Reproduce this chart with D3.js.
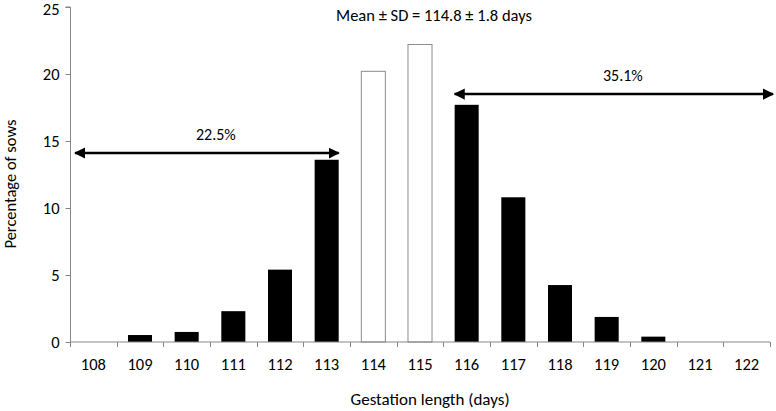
<!DOCTYPE html>
<html><head><meta charset="utf-8">
<script src="https://cdn.jsdelivr.net/npm/d3@7"></script>
<style>body{margin:0;background:#fff}svg{display:block}text{font-family:Carlito,Lato,"Open Sans",sans-serif;fill:#000}</style>
</head><body><svg id="c" width="776" height="411"></svg>
<script>
const categories = ["108","109","110","111","112","113","114","115","116","117","118","119","120","121","122"];
const values = [0, 0.52, 0.75, 2.3, 5.4, 13.6, 20.2, 22.2, 17.7, 10.8, 4.25, 1.87, 0.4, 0, 0];
const hollow = ["114","115"];
const yTicks = [0,5,10,15,20,25];
const title = "Mean \u00b1 SD = 114.8 \u00b1 1.8 days";
const spans = [
  {label:"22.5%", from:"108", to:"113", level:14.1},
  {label:"35.1%", from:"116", to:"122", level:18.5}
];

const svg = d3.select("#c");
const m = {l:70, r:6, t:7, b:69};
const x = d3.scaleBand().domain(categories).range([m.l, 770]).paddingInner(0.485).paddingOuter(0.2425);
const y = d3.scaleLinear().domain([0,25]).range([342, 7]);

// bars
svg.append("g").selectAll("rect").data(categories).join("rect")
  .attr("x", d => x(d)).attr("width", x.bandwidth())
  .attr("y", (d,i) => y(values[i])).attr("height", (d,i) => y(0) - y(values[i]))
  .attr("fill", d => hollow.includes(d) ? "#fff" : "#000")
  .attr("stroke", d => hollow.includes(d) ? "#8c8c8c" : "none")
  .attr("stroke-width", 1);

// x axis with ticks between categories
const xb = d3.scaleLinear().domain([0, categories.length]).range([m.l, 770]);
const gx = svg.append("g").attr("transform","translate(0,342)");
gx.append("line").attr("x1", m.l).attr("x2", 770).attr("stroke","#868686").attr("stroke-width",1);
gx.selectAll("line.t").data(d3.range(categories.length+1)).join("line").attr("class","t")
  .attr("x1", d => Math.round(xb(d))+0.5).attr("x2", d => Math.round(xb(d))+0.5)
  .attr("y1", 0).attr("y2", 5).attr("stroke","#868686");
gx.selectAll("text").data(categories).join("text")
  .attr("x", d => x(d) + x.bandwidth()/2).attr("y", 28)
  .attr("text-anchor","middle").attr("font-size", 16.5).text(d => d);

// y axis
const gy = svg.append("g").attr("transform","translate(70.5,0)")
  .call(d3.axisLeft(y).tickValues(yTicks).tickSize(5).tickPadding(6).tickFormat(d3.format("d")));
gy.select(".domain").attr("stroke","#868686").attr("d", `M-5,${y(25)}H0V${y(0)}`);
gy.selectAll(".tick line").attr("stroke","#868686");
gy.selectAll(".tick text").attr("font-size", 16.5).attr("font-family","Carlito,Lato,sans-serif").attr("fill","#000")
  .attr("dy", d => d === 25 ? "0.45em" : "0.34em");

// titles
svg.append("text").attr("x", 434).attr("y", 21).attr("text-anchor","middle").attr("font-size", 16.5).text(title);
svg.append("text").attr("x", 430).attr("y", 405).attr("text-anchor","middle").attr("font-size", 17).text("Gestation length (days)");
svg.append("text").attr("transform","translate(16,184) rotate(-90)").attr("text-anchor","middle").attr("font-size", 16.5).text("Percentage of sows");

// arrows
const defs = svg.append("defs");
defs.append("marker").attr("id","ah").attr("viewBox","0 0 10 10").attr("refX",9).attr("refY",5)
  .attr("markerWidth",4.5).attr("markerHeight",4.5).attr("markerUnits","strokeWidth").attr("orient","auto-start-reverse")
  .append("path").attr("d","M0,0L10,5L0,10z").attr("fill","#000");
spans.forEach(s => {
  const x1 = s.from === categories[0] ? 75 : x(s.from);
  const x2 = s.to === categories[categories.length-1] ? 773 : x(s.to) + x.bandwidth();
  svg.append("line").attr("x1", x1).attr("x2", x2).attr("y1", y(s.level)).attr("y2", y(s.level))
    .attr("stroke","#000").attr("stroke-width",2.5)
    .attr("marker-start","url(#ah)").attr("marker-end","url(#ah)");
  svg.append("text").attr("x", (x1+x2)/2 + 9).attr("y", y(s.level) - 13)
    .attr("text-anchor","middle").attr("font-size", 16).text(s.label);
});
</script></body></html>
